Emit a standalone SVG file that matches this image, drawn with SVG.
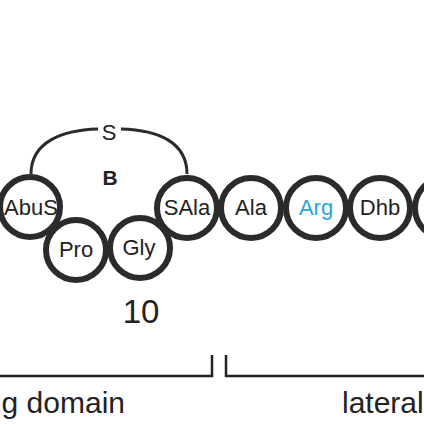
<svg xmlns="http://www.w3.org/2000/svg" width="424" height="424" viewBox="0 0 424 424">
<style>
.res circle{fill:#fff;stroke:#2b2b2b;stroke-width:6}
.lbl{font-family:"Liberation Sans",Arial,sans-serif;font-size:22px;fill:#222;text-anchor:middle}
.big{font-family:"Liberation Sans",Arial,sans-serif;font-size:30px;fill:#222}
.ln{fill:none;stroke:#2b2b2b;stroke-width:3}
.br{fill:none;stroke:#222;stroke-width:2.5}
</style>
<rect width="424" height="424" fill="#fff"/>
<g id="connectors">
<path class="ln" d="M31 174 C31 142 62 130 98 129"/>
<path class="ln" d="M121 129 C158 130 187 142 187 174"/>
<path class="br" d="M0 376 H212 V355"/>
<path class="br" d="M226 355 V376 H424"/>
</g>
<g id="sulfur"><text class="lbl" x="109" y="140">S</text></g>
<g id="ringB"><text class="lbl" x="110" y="185" style="font-weight:bold;font-size:21px">B</text></g>
<g id="AbuS" class="res"><circle cx="30" cy="207" r="30"/><text class="lbl" x="31" y="215">AbuS</text></g>
<g id="Pro" class="res"><circle cx="76" cy="250" r="30"/><text class="lbl" x="76" y="257">Pro</text></g>
<g id="Gly" class="res"><circle cx="140" cy="248" r="30"/><text class="lbl" x="139" y="255">Gly</text></g>
<g id="SAla" class="res"><circle cx="187" cy="208" r="30"/><text class="lbl" x="187" y="215">SAla</text></g>
<g id="Ala" class="res"><circle cx="251" cy="208" r="30"/><text class="lbl" x="251" y="215">Ala</text></g>
<g id="Arg" class="res"><circle cx="316" cy="208" r="30"/><text class="lbl" x="316" y="215" style="fill:#2aa6d6">Arg</text></g>
<g id="Dhb" class="res"><circle cx="380" cy="208" r="30"/><text class="lbl" x="380" y="215">Dhb</text></g>
<g id="next" class="res"><circle cx="445" cy="208" r="30"/></g>
<g id="num10"><text class="big" x="141" y="323" text-anchor="middle" style="font-size:33px">10</text></g>
<g id="domain1"><text class="big" x="125" y="413" text-anchor="end">g domain</text></g>
<g id="domain2"><text class="big" x="342" y="413">lateral</text></g>
</svg>
